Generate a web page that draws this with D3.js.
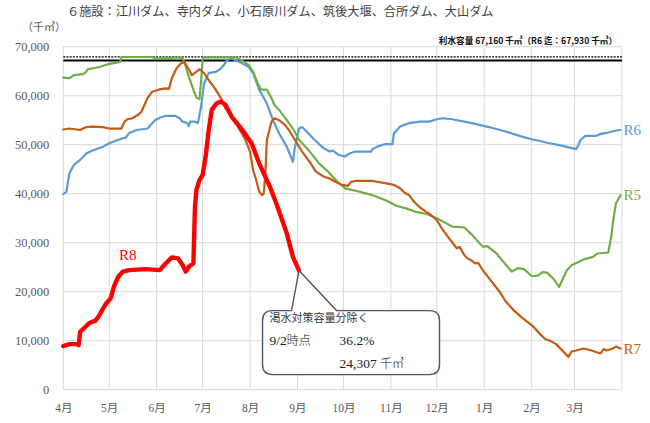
<!DOCTYPE html>
<html>
<head>
<meta charset="utf-8">
<script src="https://cdn.jsdelivr.net/npm/d3@7"></script>
<style>
  body { margin: 0; background: #fff; }
  svg { display: block; }
</style>
</head>
<body>
<div id="chart"></div>
<script>
/** DATA */
// values in 千㎥, dates are M/D of the fiscal year (4月〜3月)
const r8Data = [
  ["4/1", 8900], ["4/5", 9300], ["4/10", 9300], ["4/11", 9100], ["4/12", 11800],
  ["4/15", 12700], ["4/18", 13600], ["4/22", 14100], ["4/24", 14900], ["4/27", 16600],
  ["4/29", 17600], ["5/2", 18700], ["5/4", 21000], ["5/7", 23100], ["5/10", 24100],
  ["5/14", 24400], ["5/25", 24600], ["6/3", 24400], ["6/5", 25100], ["6/7", 25800],
  ["6/11", 27000], ["6/15", 26800], ["6/18", 25400], ["6/20", 24100], ["6/22", 25100],
  ["6/25", 25800], ["6/26", 37300], ["6/27", 40800], ["6/29", 42800], ["7/1", 43800],
  ["7/3", 47600], ["7/5", 53000], ["7/7", 57100], ["7/10", 58400], ["7/13", 58800],
  ["7/16", 58100], ["7/20", 55700], ["7/27", 53000], ["8/2", 50300], ["8/7", 46200],
  ["8/14", 41400], ["8/19", 37300], ["8/25", 31900], ["8/29", 27100], ["9/2", 24307]
];

const r7Data = [
  ["4/1", 53100], ["4/5", 53300], ["4/12", 53000], ["4/16", 53600], ["4/20", 53700],
  ["4/27", 53600], ["5/1", 53300], ["5/9", 53300], ["5/11", 54700], ["5/13", 55200],
  ["5/16", 55400], ["5/20", 56100], ["5/22", 56700], ["5/24", 58100], ["5/26", 59500],
  ["5/29", 60800], ["6/3", 61300], ["6/7", 61500], ["6/9", 61400], ["6/11", 63600],
  ["6/14", 65600], ["6/17", 66600], ["6/19", 66900], ["6/22", 65400], ["6/24", 64200],
  ["6/27", 64900], ["6/29", 65400], ["7/2", 64600], ["7/5", 63200], ["7/9", 61500],
  ["7/13", 59500], ["7/16", 57400], ["7/20", 56100], ["7/24", 53700], ["7/29", 51000],
  ["8/1", 48600], ["8/3", 44800], ["8/5", 42800], ["8/7", 40400], ["8/9", 39700],
  ["8/10", 40100], ["8/11", 44200], ["8/12", 51000], ["8/15", 54700], ["8/17", 55400],
  ["8/20", 55000], ["8/24", 54000], ["8/27", 52700], ["8/31", 50600], ["9/4", 48600],
  ["9/9", 46500], ["9/13", 44500], ["9/18", 43500], ["9/22", 43100], ["9/26", 42400],
  ["9/30", 41800], ["10/4", 41600], ["10/6", 42400], ["10/9", 42600], ["10/20", 42600],
  ["10/29", 42100], ["11/3", 41800], ["11/7", 41100], ["11/10", 40200], ["11/13", 39700],
  ["11/16", 38400], ["11/20", 37200], ["11/24", 36300], ["11/27", 35700], ["12/1", 34600],
  ["12/5", 32600], ["12/9", 30900], ["12/14", 28900], ["12/16", 29100], ["12/19", 27500],
  ["12/21", 26800], ["12/23", 26500], ["12/26", 25800], ["12/28", 25900], ["12/31", 24400],
  ["1/5", 22400], ["1/11", 20000], ["1/15", 18000], ["1/20", 16300], ["1/26", 14600],
  ["2/2", 12900], ["2/6", 11500], ["2/10", 10300], ["2/13", 10000], ["2/17", 9300],
  ["2/21", 8000], ["2/25", 6700], ["2/27", 7800], ["3/2", 8000], ["3/7", 8400],
  ["3/12", 8000], ["3/18", 7400], ["3/20", 8300], ["3/22", 8000], ["3/26", 8400],
  ["3/28", 8800], ["3/31", 8400]
];

const r6Data = [
  ["4/1", 39900], ["4/3", 40400], ["4/5", 44200], ["4/8", 45900], ["4/12", 46900],
  ["4/16", 48200], ["4/20", 48800], ["4/27", 49600], ["5/1", 50300], ["5/8", 51100],
  ["5/12", 51500], ["5/14", 52400], ["5/19", 53000], ["5/26", 53300], ["5/28", 54000],
  ["5/31", 55000], ["6/3", 55500], ["6/7", 55900], ["6/13", 55900], ["6/16", 55400],
  ["6/18", 54700], ["6/21", 54400], ["6/22", 53800], ["6/23", 54700], ["6/26", 54700],
  ["6/28", 54400], ["6/30", 57800], ["7/2", 62500], ["7/5", 64600], ["7/10", 64900],
  ["7/13", 65600], ["7/15", 66300], ["7/17", 67300], ["7/20", 67600], ["7/25", 66900],
  ["7/31", 65900], ["8/3", 64600], ["8/7", 61200], ["8/12", 58400], ["8/16", 55000],
  ["8/20", 52300], ["8/25", 49600], ["8/29", 46500], ["8/30", 48900], ["9/2", 53300],
  ["9/4", 53600], ["9/7", 52700], ["9/12", 51000], ["9/18", 49300], ["9/22", 48600],
  ["9/24", 48800], ["9/28", 47900], ["10/2", 47600], ["10/5", 48200], ["10/9", 48600],
  ["10/19", 48600], ["10/20", 49100], ["10/23", 49600], ["10/28", 50100], ["11/2", 50100],
  ["11/3", 52300], ["11/7", 53700], ["11/13", 54400], ["11/20", 54700], ["11/26", 54700],
  ["12/1", 55200], ["12/5", 55400], ["12/11", 55200], ["12/24", 54400], ["1/4", 53600],
  ["1/15", 52700], ["1/24", 51800], ["2/1", 51100], ["2/6", 50800], ["2/11", 50400],
  ["2/19", 49900], ["2/26", 49400], ["3/2", 49100], ["3/3", 49600], ["3/5", 51000],
  ["3/8", 51800], ["3/15", 51800], ["3/18", 52200], ["3/22", 52400], ["3/28", 52900],
  ["3/31", 53000]
];

const r5Data = [
  ["4/1", 63700], ["4/5", 63600], ["4/8", 64200], ["4/14", 64400], ["4/16", 64900],
  ["4/17", 65400], ["4/24", 65800], ["4/27", 66100], ["5/1", 66500], ["5/5", 66700],
  ["5/8", 66900], ["5/9", 67900], ["5/29", 67900], ["6/1", 67500], ["6/3", 67600],
  ["6/16", 67800], ["6/18", 67600], ["6/19", 66900], ["6/22", 63900], ["6/25", 61200],
  ["6/27", 59600], ["6/29", 59300], ["6/30", 63000], ["7/1", 67300], ["7/2", 67800],
  ["7/23", 67800], ["7/27", 67100], ["7/31", 66300], ["8/3", 64900], ["8/6", 62500],
  ["8/8", 61300], ["8/12", 61200], ["8/15", 59500], ["8/17", 58100], ["8/20", 57100],
  ["8/25", 55000], ["8/29", 53300], ["9/2", 51000], ["9/9", 48600], ["9/15", 46200],
  ["9/21", 44500], ["9/26", 42800], ["10/2", 41100], ["10/9", 40600], ["10/20", 39700],
  ["10/29", 38600], ["11/5", 37500], ["11/11", 37000], ["11/17", 36300], ["11/24", 35900],
  ["12/1", 35000], ["12/7", 34000], ["12/11", 33300], ["12/19", 33100], ["12/24", 31600],
  ["12/31", 29200], ["1/3", 29300], ["1/9", 27800], ["1/14", 25900], ["1/19", 24100],
  ["1/23", 24800], ["1/27", 24600], ["2/1", 23200], ["2/5", 23300], ["2/8", 24000],
  ["2/11", 23900], ["2/15", 22700], ["2/19", 21000], ["2/21", 22400], ["2/24", 24400],
  ["2/27", 25400], ["3/4", 26100], ["3/7", 26600], ["3/13", 27100], ["3/16", 27800],
  ["3/23", 28000], ["3/25", 31200], ["3/26", 34000], ["3/28", 38000], ["3/31", 39700]
];

const capacity = 67160;      // 利水容量
const capacityOld = 67930;   // R6 迄
const yTicks = [0, 10000, 20000, 30000, 40000, 50000, 60000, 70000];
const monthTicks = ["4/1", "5/1", "6/1", "7/1", "8/1", "9/1", "10/1", "11/1", "12/1", "1/1", "2/1", "3/1"];
const lastNote = { date: "9/2", pct: "36.2%", volume: "24,307" };

/** CONSTANTS */
const width = 650,
  height = 423,
  margin = { top: 46.7, right: 28, bottom: 33.3, left: 63.3 };

const serif = "'Liberation Serif', 'Noto Sans CJK JP', serif";
const gothic = "'Noto Sans CJK JP', sans-serif";

// fiscal year: Apr-Dec 2026, Jan-Mar 2027
const toDate = md => {
  const [m, d] = md.split("/").map(Number);
  return new Date(m >= 4 ? 2026 : 2027, m - 1, d);
};

/** SCALES */
const xScale = d3.scaleTime()
  .domain([new Date(2026, 3, 1), new Date(2027, 3, 1)])
  .range([margin.left, width - margin.right]);

const yScale = d3.scaleLinear()
  .domain([0, 70000])
  .range([height - margin.bottom, margin.top]);

/** DRAWING ELEMENTS */
const svg = d3.select("#chart")
  .append("svg")
  .attr("width", width)
  .attr("height", height);

// grid
const monthLines = monthTicks.map(toDate).concat([new Date(2027, 3, 1)]);
svg.append("g")
  .selectAll("line")
  .data(monthLines)
  .join("line")
  .attr("x1", d => xScale(d))
  .attr("x2", d => xScale(d))
  .attr("y1", yScale(0))
  .attr("y2", yScale(70000))
  .attr("stroke", "#d9d9d9");

svg.append("g")
  .selectAll("line")
  .data(yTicks)
  .join("line")
  .attr("x1", margin.left)
  .attr("x2", width - margin.right)
  .attr("y1", d => yScale(d))
  .attr("y2", d => yScale(d))
  .attr("stroke", "#d9d9d9");

// axes
const yAxis = d3.axisLeft(yScale)
  .tickValues(yTicks)
  .tickFormat(d3.format(","))
  .tickSize(0)
  .tickPadding(14);

svg.append("g")
  .attr("transform", `translate(${margin.left},0)`)
  .call(yAxis)
  .call(g => g.select(".domain").remove())
  .selectAll("text")
  .attr("font-family", serif)
  .attr("font-size", 12.5)
  .attr("fill", "#595959");

const xAxis = d3.axisBottom(xScale)
  .tickValues(monthTicks.map(toDate))
  .tickFormat(d => (d.getMonth() + 1) + "月")
  .tickSize(0)
  .tickPadding(14);

svg.append("g")
  .attr("transform", `translate(0,${height - margin.bottom})`)
  .call(xAxis)
  .call(g => g.select(".domain").remove())
  .selectAll("text")
  .attr("font-family", serif)
  .attr("font-size", 11.5)
  .attr("fill", "#595959");

// capacity lines
svg.append("line")
  .attr("x1", margin.left)
  .attr("x2", width - margin.right)
  .attr("y1", yScale(capacityOld))
  .attr("y2", yScale(capacityOld))
  .attr("stroke", "#000")
  .attr("stroke-width", 1.3)
  .attr("stroke-dasharray", "2,1.2");

svg.append("line")
  .attr("x1", margin.left)
  .attr("x2", width - margin.right)
  .attr("y1", yScale(capacity))
  .attr("y2", yScale(capacity))
  .attr("stroke", "#000")
  .attr("stroke-width", 2);

// series
const line = d3.line()
  .x(d => xScale(toDate(d[0])))
  .y(d => yScale(d[1]));

const series = [
  { name: "R6", data: r6Data, color: "#5b9bd5", w: 2.2 },
  { name: "R5", data: r5Data, color: "#70ad47", w: 2.2 },
  { name: "R7", data: r7Data, color: "#c55a11", w: 2.2 },
  { name: "R8", data: r8Data, color: "#ff0000", w: 4.4 }
];

svg.append("g")
  .selectAll("path")
  .data(series)
  .join("path")
  .attr("d", d => line(d.data))
  .attr("fill", "none")
  .attr("stroke", d => d.color)
  .attr("stroke-width", d => d.w)
  .attr("stroke-linejoin", "round")
  .attr("stroke-linecap", "round");

// series labels at the end of R5-R7
svg.append("g")
  .selectAll("text")
  .data(series.filter(s => s.name !== "R8"))
  .join("text")
  .attr("x", d => xScale(toDate(d.data[d.data.length - 1][0])) + 3)
  .attr("y", d => yScale(d.data[d.data.length - 1][1]))
  .attr("dy", "0.35em")
  .attr("font-family", serif)
  .attr("font-size", 15)
  .attr("fill", d => d.color)
  .text(d => d.name);

svg.append("text")
  .attr("x", xScale(toDate("5/14")) - 10)
  .attr("y", yScale(24400) - 10)
  .attr("font-family", serif)
  .attr("font-size", 15)
  .attr("fill", "#ff0000")
  .text("R8");

// callout
const last = r8Data[r8Data.length - 1];
const tx = xScale(toDate(last[0])), ty = yScale(last[1]);
const bx = tx - 36.5, by = ty + 40, bw = 177, bh = 64, r = 10;
const p1 = tx - 7.5, p2 = tx + 37.5;

svg.append("path")
  .attr("d", `M${bx + r},${by} L${p1},${by} L${tx},${ty} L${p2},${by} L${bx + bw - r},${by}
    Q${bx + bw},${by} ${bx + bw},${by + r} L${bx + bw},${by + bh - r}
    Q${bx + bw},${by + bh} ${bx + bw - r},${by + bh} L${bx + r},${by + bh}
    Q${bx},${by + bh} ${bx},${by + bh - r} L${bx},${by + r} Q${bx},${by} ${bx + r},${by} Z`)
  .attr("fill", "#fff")
  .attr("stroke", "#4a5668")
  .attr("stroke-width", 1.4);

svg.append("text")
  .attr("x", bx + 7).attr("y", by + 11)
  .attr("font-family", gothic).attr("font-size", 11).attr("fill", "#333")
  .text("渇水対策容量分除く");

const t1 = svg.append("text")
  .attr("x", bx + 7).attr("y", by + 34)
  .attr("font-family", serif).attr("font-size", 13.5).attr("fill", "#222");
t1.append("tspan").text(lastNote.date);
t1.append("tspan").attr("font-family", gothic).attr("font-size", 12).attr("font-weight", 300).text("時点");

svg.append("text")
  .attr("x", bx + 77).attr("y", by + 34)
  .attr("font-family", serif).attr("font-size", 13.5).attr("fill", "#222")
  .text(lastNote.pct);

const t2 = svg.append("text")
  .attr("x", bx + 77).attr("y", by + 57)
  .attr("font-family", serif).attr("font-size", 13.5).attr("fill", "#222");
t2.append("tspan").text(lastNote.volume + " ");
t2.append("tspan").attr("font-family", gothic).attr("font-size", 12).attr("font-weight", 300).text("千㎥");

// titles
svg.append("text")
  .attr("x", 67).attr("y", 16)
  .attr("font-family", gothic).attr("font-size", 12.2).attr("fill", "#404040")
  .text("６施設：江川ダム、寺内ダム、小石原川ダム、筑後大堰、合所ダム、大山ダム");

svg.append("text")
  .attr("x", 22).attr("y", 31)
  .attr("font-family", gothic).attr("font-size", 11).attr("fill", "#595959")
  .text("（千㎥）");

svg.append("text")
  .attr("x", 617).attr("y", 44)
  .attr("text-anchor", "end")
  .attr("font-family", gothic).attr("font-size", 8.6).attr("font-weight", "bold").attr("fill", "#111")
  .text("利水容量 67,160 千㎥（R6 迄：67,930 千㎥）");
</script>
</body>
</html>
